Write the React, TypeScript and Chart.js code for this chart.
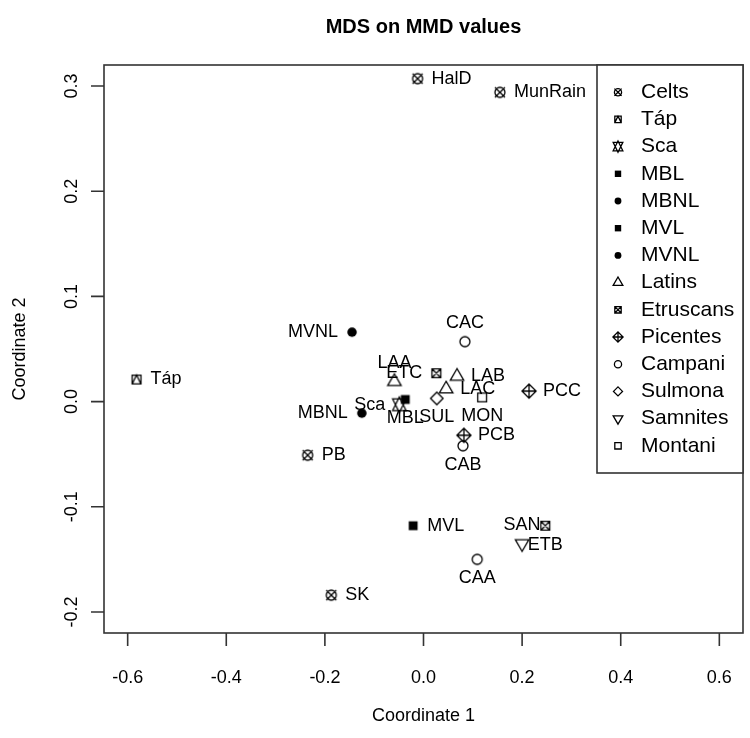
import React, { useEffect, useRef } from 'react';
import { Chart, registerables } from 'chart.js';

Chart.register(...registerables);

// ---------- data ----------
const chartTitle = 'MDS on MMD values';
const xAxisTitle = 'Coordinate 1';
const yAxisTitle = 'Coordinate 2';
const xTicks = [-0.6, -0.4, -0.2, 0.0, 0.2, 0.4, 0.6];
const yTicks = [-0.2, -0.1, 0.0, 0.1, 0.2, 0.3];
const xLimits = [-0.648, 0.648];
const yLimits = [-0.22, 0.32];

const groups = ['Celts', 'Táp', 'Sca', 'MBL', 'MBNL', 'MVL', 'MVNL', 'Latins', 'Etruscans', 'Picentes', 'Campani', 'Sulmona', 'Samnites', 'Montani'];
// R plotting symbols (pch) per group
const groupSymbols = [13, 14, 11, 15, 16, 15, 16, 2, 7, 9, 1, 5, 6, 0];

const pointNames = ['HalD', 'MunRain', 'PB', 'SK', 'Táp', 'Sca', 'MBL', 'MBNL', 'MVL', 'MVNL', 'LAA', 'LAB', 'LAC', 'ETC', 'ETB', 'PCC', 'PCB', 'CAC', 'CAB', 'CAA', 'SUL', 'SAN', 'MON'];
const pointGroups = ['Celts', 'Celts', 'Celts', 'Celts', 'Táp', 'Sca', 'MBL', 'MBNL', 'MVL', 'MVNL', 'Latins', 'Latins', 'Latins', 'Etruscans', 'Etruscans', 'Picentes', 'Picentes', 'Campani', 'Campani', 'Campani', 'Sulmona', 'Samnites', 'Montani'];
const coord1 = [-0.012, 0.155, -0.235, -0.187, -0.582, -0.049, -0.037, -0.125, -0.021, -0.145, -0.059, 0.068, 0.046, 0.026, 0.247, 0.214, 0.082, 0.084, 0.080, 0.109, 0.027, 0.200, 0.119];
const coord2 = [0.307, 0.294, -0.051, -0.184, 0.021, -0.003, 0.002, -0.011, -0.118, 0.066, 0.019, 0.024, 0.012, 0.027, -0.118, 0.010, -0.032, 0.057, -0.042, -0.150, 0.003, -0.135, 0.004];
// label side (R text pos): 1 below, 2 left, 3 above, 4 right
const labelSides = [4, 4, 4, 4, 4, 2, 1, 2, 4, 2, 3, 4, 4, 2, 1, 4, 4, 3, 1, 1, 1, 3, 1];

// ---------- style ----------
const FONT = '"Liberation Sans", Arial, Helvetica, sans-serif';
const LINE = '#333333';

function drawPch(ctx: CanvasRenderingContext2D, pch: number, x: number, y: number, k: number) {
  const R0 = 5 * k;
  const sq = 0.886 * R0;
  ctx.save();
  ctx.strokeStyle = '#000';
  ctx.fillStyle = '#000';
  ctx.lineWidth = 1.3;
  const tri = (dir: number) => {
    const r = 1.5551 * R0, xc = 1.3468 * R0, yc = 0.7776 * R0;
    ctx.moveTo(x, y - dir * r);
    ctx.lineTo(x + xc, y + dir * yc);
    ctx.lineTo(x - xc, y + dir * yc);
    ctx.closePath();
  };
  const diamond = (d: number) => {
    ctx.moveTo(x, y - d);
    ctx.lineTo(x + d, y);
    ctx.lineTo(x, y + d);
    ctx.lineTo(x - d, y);
    ctx.closePath();
  };
  ctx.beginPath();
  switch (pch) {
    case 0:
      ctx.rect(x - sq, y - sq, 2 * sq, 2 * sq);
      ctx.stroke();
      break;
    case 1:
      ctx.arc(x, y, R0, 0, Math.PI * 2);
      ctx.stroke();
      break;
    case 2:
      tri(1);
      ctx.stroke();
      break;
    case 5:
      diamond(1.2533 * R0);
      ctx.stroke();
      break;
    case 6:
      tri(-1);
      ctx.stroke();
      break;
    case 7:
      ctx.rect(x - sq, y - sq, 2 * sq, 2 * sq);
      ctx.moveTo(x - sq, y - sq); ctx.lineTo(x + sq, y + sq);
      ctx.moveTo(x + sq, y - sq); ctx.lineTo(x - sq, y + sq);
      ctx.stroke();
      break;
    case 9: {
      const d = 1.4142 * R0;
      diamond(d);
      ctx.moveTo(x - d, y); ctx.lineTo(x + d, y);
      ctx.moveTo(x, y - d); ctx.lineTo(x, y + d);
      ctx.stroke();
      break;
    }
    case 11: {
      const r = 1.5551 * R0;
      const yc = 0.5 * (0.7776 * R0 + r);
      const xc = 1.3468 * R0;
      ctx.moveTo(x, y - r); ctx.lineTo(x + xc, y + yc); ctx.lineTo(x - xc, y + yc); ctx.closePath();
      ctx.moveTo(x, y + r); ctx.lineTo(x + xc, y - yc); ctx.lineTo(x - xc, y - yc); ctx.closePath();
      ctx.stroke();
      break;
    }
    case 13:
      ctx.arc(x, y, R0, 0, Math.PI * 2);
      ctx.moveTo(x - R0, y - R0); ctx.lineTo(x + R0, y + R0);
      ctx.moveTo(x + R0, y - R0); ctx.lineTo(x - R0, y + R0);
      ctx.stroke();
      break;
    case 14:
      ctx.rect(x - sq, y - sq, 2 * sq, 2 * sq);
      ctx.moveTo(x - sq, y + sq); ctx.lineTo(x, y - sq); ctx.lineTo(x + sq, y + sq);
      ctx.stroke();
      break;
    case 15:
      ctx.fillRect(x - sq, y - sq, 2 * sq, 2 * sq);
      break;
    case 16:
      ctx.arc(x, y, R0 * 0.95, 0, Math.PI * 2);
      ctx.fill();
      break;
    default:
      break;
  }
  ctx.restore();
}

function makeSymbolCanvas(pch: number): HTMLCanvasElement {
  const c = document.createElement('canvas');
  c.width = 22;
  c.height = 22;
  const ctx = c.getContext('2d') as CanvasRenderingContext2D;
  drawPch(ctx, pch, 11, 11, 1);
  return c;
}

const axesPlugin = {
  id: 'rAxes',
  afterDraw(chart: any) {
    const ctx = chart.ctx as CanvasRenderingContext2D;
    const { left, right, top, bottom } = chart.chartArea;
    const xs = chart.scales.x;
    const ys = chart.scales.y;
    ctx.save();
    ctx.strokeStyle = LINE;
    ctx.lineWidth = 1.6;
    ctx.strokeRect(left, top, right - left, bottom - top);
    // ticks
    ctx.beginPath();
    xTicks.forEach((v) => {
      const px = xs.getPixelForValue(v);
      ctx.moveTo(px, bottom);
      ctx.lineTo(px, bottom + 13);
    });
    yTicks.forEach((v) => {
      const py = ys.getPixelForValue(v);
      ctx.moveTo(left, py);
      ctx.lineTo(left - 13, py);
    });
    ctx.stroke();
    ctx.fillStyle = '#000';
    ctx.font = `18px ${FONT}`;
    ctx.textAlign = 'center';
    ctx.textBaseline = 'middle';
    xTicks.forEach((v) => {
      ctx.fillText(v.toFixed(1), xs.getPixelForValue(v), 678);
    });
    yTicks.forEach((v) => {
      ctx.save();
      ctx.translate(72, ys.getPixelForValue(v));
      ctx.rotate(-Math.PI / 2);
      ctx.fillText(v.toFixed(1), 0, 0);
      ctx.restore();
    });
    // axis titles
    const cx = (left + right) / 2;
    const cy = (top + bottom) / 2;
    ctx.fillText(xAxisTitle, cx, 716);
    ctx.save();
    ctx.translate(20, cy);
    ctx.rotate(-Math.PI / 2);
    ctx.fillText(yAxisTitle, 0, 0);
    ctx.restore();
    // main title
    ctx.font = `bold 20px ${FONT}`;
    ctx.fillText(chartTitle, cx, 27);
    ctx.restore();
  },
};

const labelsPlugin = {
  id: 'pointLabels',
  afterDatasetsDraw(chart: any) {
    const ctx = chart.ctx as CanvasRenderingContext2D;
    ctx.save();
    ctx.fillStyle = '#000';
    ctx.font = `18px ${FONT}`;
    ctx.textBaseline = 'middle';
    chart.data.datasets.forEach((ds: any, di: number) => {
      const meta = chart.getDatasetMeta(di);
      meta.data.forEach((el: any, i: number) => {
        const raw = ds.data[i];
        const side = raw.side;
        let tx = el.x;
        let ty = el.y;
        if (side === 1) { ctx.textAlign = 'center'; ty += 19; }
        else if (side === 3) { ctx.textAlign = 'center'; ty -= 19; }
        else if (side === 2) { ctx.textAlign = 'right'; tx -= 14; }
        else { ctx.textAlign = 'left'; tx += 14; }
        ctx.fillText(raw.name, tx, ty);
      });
    });
    ctx.restore();
  },
};

const legendPlugin = {
  id: 'rLegend',
  afterDraw(chart: any) {
    const ctx = chart.ctx as CanvasRenderingContext2D;
    const { right, top } = chart.chartArea;
    const boxLeft = 597;
    const step = 27.2;
    const boxBottom = top + step * (groups.length + 1);
    ctx.save();
    ctx.fillStyle = '#fff';
    ctx.fillRect(boxLeft, top, right - boxLeft, boxBottom - top);
    ctx.strokeStyle = LINE;
    ctx.lineWidth = 1.6;
    ctx.strokeRect(boxLeft, top, right - boxLeft, boxBottom - top);
    ctx.font = `21px ${FONT}`;
    ctx.textAlign = 'left';
    ctx.textBaseline = 'middle';
    groups.forEach((g, i) => {
      const y = top + step * (i + 1);
      drawPch(ctx, groupSymbols[i], 618, y, 0.72);
      ctx.fillStyle = '#000';
      ctx.fillText(g, 641, y);
    });
    ctx.restore();
  },
};

export default function App() {
  const canvasRef = useRef<HTMLCanvasElement | null>(null);

  useEffect(() => {
    const canvas = canvasRef.current;
    if (!canvas) return;
    const datasets = groups.map((g, gi) => {
      const data: any[] = [];
      pointNames.forEach((name, i) => {
        if (pointGroups[i] === g) {
          data.push({ x: coord1[i], y: coord2[i], name, side: labelSides[i] });
        }
      });
      return {
        label: g,
        data,
        pointStyle: makeSymbolCanvas(groupSymbols[gi]),
        pointRadius: 6,
        borderColor: '#000',
        backgroundColor: '#000',
      };
    });
    const chart = new Chart(canvas, {
      type: 'scatter',
      data: { datasets },
      options: {
        animation: false,
        responsive: false,
        events: [],
        layout: { padding: { left: 104, top: 65, right: 2, bottom: 105 } },
        scales: {
          x: { type: 'linear', display: false, min: xLimits[0], max: xLimits[1] },
          y: { type: 'linear', display: false, min: yLimits[0], max: yLimits[1] },
        },
        plugins: {
          legend: { display: false },
          tooltip: { enabled: false },
          title: { display: false },
        },
      } as any,
      plugins: [labelsPlugin, axesPlugin, legendPlugin],
    });
    return () => chart.destroy();
  }, []);

  return (
    <div style={{ position: 'absolute', left: 0, top: 0, width: 750, height: 738, background: '#fff' }}>
      <canvas ref={canvasRef} width={750} height={738} style={{ width: 750, height: 738, display: 'block' }} />
    </div>
  );
}
